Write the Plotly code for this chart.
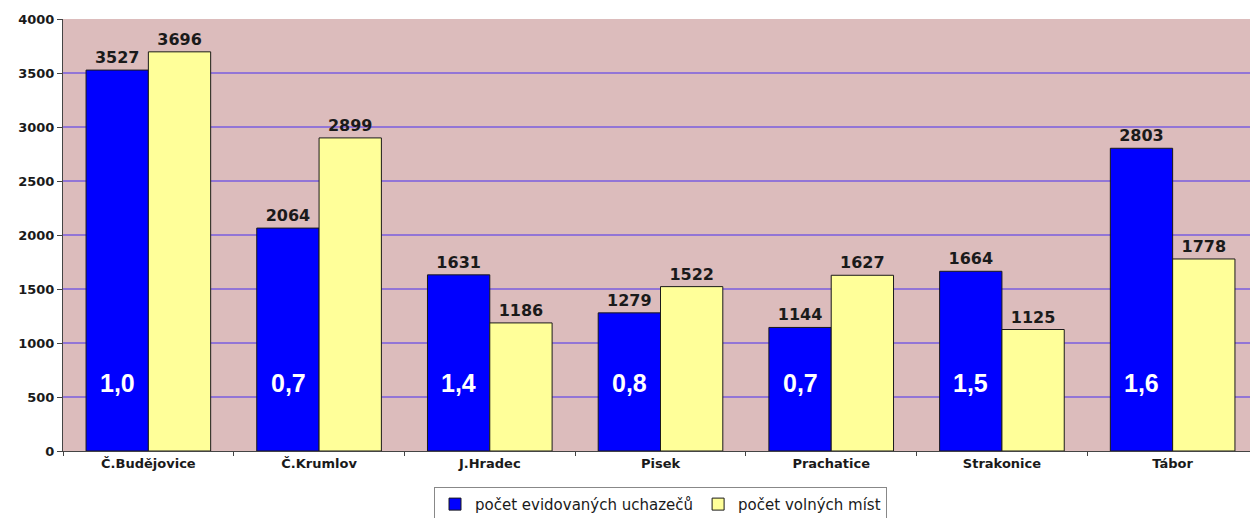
import plotly.graph_objects as go

categories = ["Č.Budějovice", "Č.Krumlov", "J.Hradec", "Pisek", "Prachatice", "Strakonice", "Tábor"]
uchazeci = [3527, 2064, 1631, 1279, 1144, 1664, 2803]
mista = [3696, 2899, 1186, 1522, 1627, 1125, 1778]
ratios = ["1,0", "0,7", "1,4", "0,8", "0,7", "1,5", "1,6"]
y_ticks = [0, 500, 1000, 1500, 2000, 2500, 3000, 3500, 4000]
ratio_label_y = 630

wide_font = "DejaVu Sans, Verdana, sans-serif"
arial = "Liberation Sans, Arial, sans-serif"

fig = go.Figure()
fig.add_trace(go.Bar(
    x=categories, y=uchazeci, name="počet evidovaných uchazečů",
    marker=dict(color="#0000FF", line=dict(color="#1a1a1a", width=1)),
    text=["<b>%d</b>" % v for v in uchazeci], textposition="outside",
    textfont=dict(family=wide_font, size=16, color="#1a1a1a"),
    cliponaxis=False,
))
fig.add_trace(go.Bar(
    x=categories, y=mista, name="počet volných míst",
    marker=dict(color="#FFFF99", line=dict(color="#1a1a1a", width=1)),
    text=["<b>%d</b>" % v for v in mista], textposition="outside",
    textfont=dict(family=wide_font, size=16, color="#1a1a1a"),
    cliponaxis=False,
))

for cat, r in zip(categories, ratios):
    fig.add_annotation(
        x=cat, y=ratio_label_y, text="<b>" + r + "</b>", showarrow=False,
        xshift=-31, font=dict(family=arial, size=25, color="white"),
    )

# page body adds an 8px offset, so the figure is sized to the visible area
fig.update_layout(
    width=1250, height=510,
    margin=dict(l=55, r=0, t=11, b=67, autoexpand=False),
    paper_bgcolor="white",
    plot_bgcolor="#dcbcbc",
    barmode="group",
    bargap=0.27,
    bargroupgap=0,
    font=dict(family=wide_font, color="#1a1a1a"),
    legend=dict(
        orientation="h", x=0.5, xanchor="center", y=-0.083, yanchor="top",
        bordercolor="#888888", borderwidth=1, bgcolor="white",
        font=dict(family=wide_font, size=15, color="#1a1a1a"),
        traceorder="normal", itemwidth=30,
    ),
    showlegend=True,
)
fig.update_yaxes(
    range=[0, 4000], tickvals=y_ticks,
    ticktext=["<b>%d</b>" % v for v in y_ticks],
    tickfont=dict(family=wide_font, size=13, color="#1a1a1a"),
    showgrid=True, gridcolor="#9275d6", gridwidth=2,
    ticks="outside", ticklen=5, tickcolor="#444444",
    showline=True, linecolor="#444444", linewidth=1,
    zeroline=False,
)
fig.update_xaxes(
    tickvals=categories,
    ticktext=["<b>" + c + "</b>" for c in categories],
    tickfont=dict(family=wide_font, size=13, color="#1a1a1a"),
    showline=True, linecolor="#444444", linewidth=1,
    ticks="outside", tickson="boundaries", ticklen=4, tickcolor="#444444",
)

fig.write_html("out.html")
